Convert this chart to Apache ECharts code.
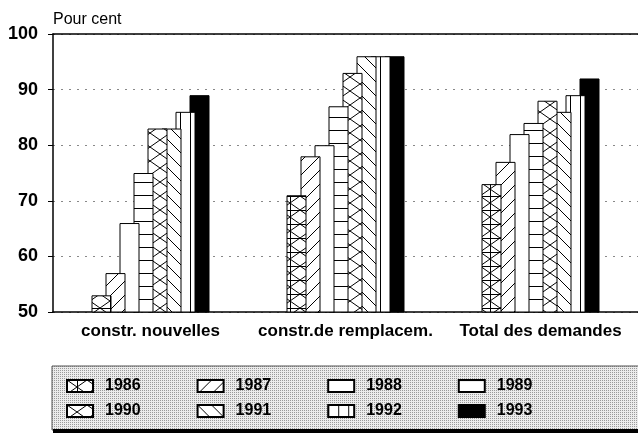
<!DOCTYPE html>
<html>
<head>
    <meta charset="utf-8">
    <title>Pour cent</title>
    <script src="https://cdn.jsdelivr.net/npm/echarts@6.0.0/dist/echarts.min.js"></script>
    <style>
        html, body { margin: 0; padding: 0; background: #fff; }
    </style>
</head>
<body>
    <div id="main" style="width: 638px;height:435px;"></div>

<script>
// données
const categories = ['constr. nouvelles', 'constr.de remplacem.', 'Total des demandes'];
const years = ['1986', '1987', '1988', '1989', '1990', '1991', '1992', '1993'];
const v1986 = [53, 71, 73];
const v1987 = [57, 78, 77];
const v1988 = [66, 80, 82];
const v1989 = [75, 87, 84];
const v1990 = [83, 93, 88];
const v1991 = [83, 96, 86];
const v1992 = [86, 96, 89];
const v1993 = [89, 96, 92];
const values = [v1986, v1987, v1988, v1989, v1990, v1991, v1992, v1993];
const yTicks = [50, 60, 70, 80, 90, 100];

const FONT = '"Liberation Sans", Arial, sans-serif';

// motifs de hachures
function makePattern(w, h, draw) {
    const c = document.createElement('canvas');
    c.width = w; c.height = h;
    const ctx = c.getContext('2d');
    ctx.fillStyle = '#fff';
    ctx.fillRect(0, 0, w, h);
    ctx.strokeStyle = '#000';
    ctx.lineWidth = 1;
    draw(ctx, w, h);
    return { image: c, repeat: 'repeat' };
}
function line(ctx, x1, y1, x2, y2) {
    ctx.beginPath();
    ctx.moveTo(x1, y1);
    ctx.lineTo(x2, y2);
    ctx.stroke();
}

const fills = [
    // 1986 : croix + quadrillage
    makePattern(20, 14, (ctx, w, h) => {
        line(ctx, 0, 0, w, h);
        line(ctx, w, 0, 0, h);
        line(ctx, 10.5, 0, 10.5, h);
        line(ctx, 0, 0.5, w, 0.5);
    }),
    // 1987 : /
    makePattern(14, 14, (ctx, w, h) => {
        line(ctx, -1, h + 1, w + 1, -1);
    }),
    // 1988 : blanc
    '#fff',
    // 1989 : horizontales
    makePattern(10, 13, (ctx, w) => {
        line(ctx, 0, 0.5, w, 0.5);
    }),
    // 1990 : croix
    makePattern(20, 14, (ctx, w, h) => {
        line(ctx, 0, 0, w, h);
        line(ctx, w, 0, 0, h);
    }),
    // 1991 : \
    makePattern(14, 14, (ctx, w, h) => {
        line(ctx, -1, -1, w + 1, h + 1);
    }),
    // 1992 : verticales
    makePattern(10, 10, (ctx, w, h) => {
        line(ctx, 0.5, 0, 0.5, h);
    }),
    // 1993 : noir
    '#000'
];

const stipple = (() => {
    const c = document.createElement('canvas');
    c.width = 2; c.height = 2;
    const ctx = c.getContext('2d');
    ctx.fillStyle = '#ececec';
    ctx.fillRect(0, 0, 2, 2);
    ctx.fillStyle = '#9a9a9a';
    ctx.fillRect(0, 0, 1, 1);
    return { image: c, repeat: 'repeat' };
})();

const myChart = echarts.init(document.getElementById('main'));

const series = years.map((y, i) => ({
    name: y,
    type: 'bar',
    data: values[i],
    barWidth: 20,
    barGap: '-30%',
    z: 20 - i,
    itemStyle: {
        color: fills[i],
        borderColor: '#000',
        borderWidth: 1
    },
    emphasis: { disabled: true }
}));

const legendCommon = {
    orient: 'horizontal',
    left: 61,
    itemWidth: 26,
    itemHeight: 12,
    itemGap: 56,
    icon: 'rect',
    selectedMode: false,
    textStyle: {
        fontFamily: FONT,
        fontSize: 16,
        fontWeight: 'bold',
        color: '#000',
        padding: [0, 0, 0, 7]
    }
};

const option = {
    animation: false,
    backgroundColor: '#fff',
    title: {
        text: 'Pour cent',
        left: 48,
        top: 7,
        textStyle: { fontFamily: FONT, fontSize: 16, fontWeight: 'normal', color: '#000' }
    },
    graphic: [{
        type: 'rect',
        z: -1,
        shape: { x: 52, y: 366, width: 600, height: 64 },
        style: { fill: stipple, stroke: '#555', lineWidth: 1 }
    }, {
        type: 'rect',
        z: 0,
        shape: { x: 53, y: 429, width: 600, height: 4 },
        style: { fill: '#000' }
    }],
    legend: [
        Object.assign({ top: 373, data: years.slice(0, 4) }, legendCommon),
        Object.assign({ top: 398, data: years.slice(4) }, legendCommon)
    ],
    grid: { left: 53, right: 0, top: 34, bottom: 123 },
    xAxis: [{
        type: 'category',
        data: categories,
        axisLine: { lineStyle: { color: '#000', width: 1.5 } },
        axisTick: { alignWithLabel: true, length: 5, lineStyle: { color: '#000' } },
        axisLabel: {
            interval: 0,
            margin: 11,
            fontFamily: FONT,
            fontSize: 17,
            fontWeight: 'bold',
            color: '#000'
        }
    }, {
        type: 'category',
        data: categories,
        position: 'top',
        axisLine: { lineStyle: { color: '#000', width: 1.5 } },
        axisTick: { show: false },
        axisLabel: { show: false }
    }],
    yAxis: {
        type: 'value',
        min: yTicks[0],
        max: yTicks[yTicks.length - 1],
        interval: 10,
        axisLine: { show: true, lineStyle: { color: '#000', width: 1.5 } },
        axisTick: { show: true, length: 5, lineStyle: { color: '#000' } },
        axisLabel: {
            margin: 15,
            fontFamily: FONT,
            fontSize: 18,
            fontWeight: 'bold',
            color: '#000'
        },
        splitLine: { show: true, lineStyle: { color: '#888', type: [2, 6], width: 1 } }
    },
    series: series
};

myChart.setOption(option);
</script>
</body>
</html>
